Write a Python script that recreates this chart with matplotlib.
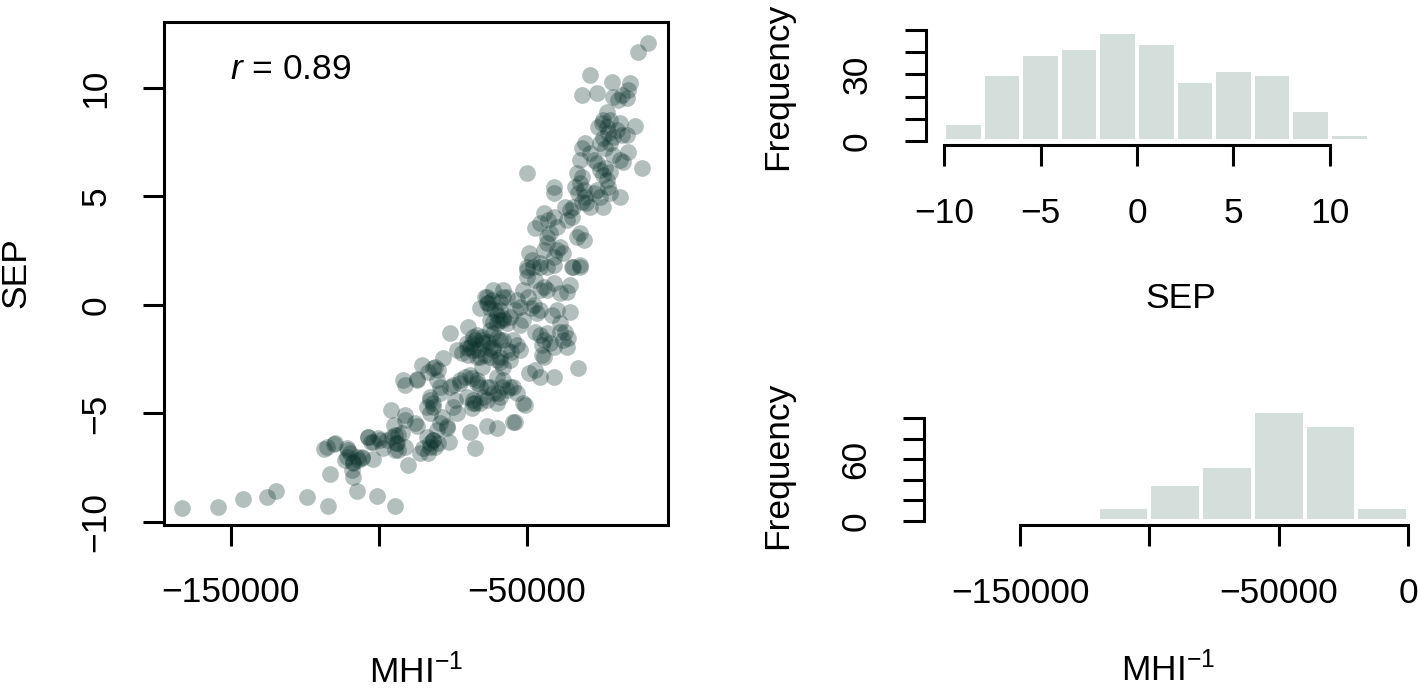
import numpy as np
import matplotlib
matplotlib.use("Agg")
import matplotlib.pyplot as plt

plt.rcParams["font.family"] = ["Liberation Sans", "DejaVu Sans"]
plt.rcParams["mathtext.fontset"] = "custom"
plt.rcParams["mathtext.rm"] = "Liberation Sans"
plt.rcParams["mathtext.it"] = "Liberation Sans:italic"

# scatter: MHI^-1 (thousands) against SEP
mhi_k = [
    # lower tail
    -166.4, -154.3, -145.8, -137.7, -134.8, -124.4, -117.1, -118.5, -115.1, -116.7,
    -110.4, -110.9, -108.7, -107.0, -105.8, -108.7, -107.5, -103.8, -102.7, -101.9,
    -100.6, -100.2, -94.6, -96.0, -94.8, -94.6, -94.4, -92.3, -93.5,
    -117.7, -114.9, -110.9, -109.8, -111.5, -108.7, -107.5, -105.8, -109.2, -103.6,
    -101.9, -99.7, -91.2, -87.8, -87.3, -95.7, -93.5, -94.0, -97.4, -98.5, -94.6,
    -91.2, -90.1,
    # lower band
    -91.8, -87.3, -85.6, -83.4, -81.1, -79.9, -78.3, -80.5, -79.4, -82.8, -83.9,
    -81.6, -82.8, -83.9, -82.8, -81.6, -81.1, -85.1, -86.2, -83.4, -80.5, -79.4,
    -77.1, -76.5,
    -76.0, -73.8, -72.1, -70.4, -68.7, -67.6, -69.8, -65.9, -64.2, -68.1, -69.8,
    -65.3, -62.5, -59.1, -56.9, -55.4, -58.0, -60.2, -61.4, -65.9, -63.1, -62.5,
    -59.1, -58.0, -58.0, -56.9, -55.7, -60.2,
    -74.9, -72.6, -68.7, -67.0, -65.9, -63.6, -60.2, -58.5, -56.9, -53.5, -61.4,
    -68.1, -67.6, -68.7, -64.7, -69.3, -67.6, -63.6, -60.2, -54.6,
    # middle
    -91.2, -87.3, -81.6, -82.8, -81.6, -79.4, -78.8, -77.1, -81.6, -82.8, -79.9,
    -91.2, -74.9, -74.3, -73.8, -76.0, -72.6, -70.9, -69.3, -69.3, -66.5, -67.0,
    -67.0, -68.1, -70.4, -65.9, -62.5, -63.6, -58.0, -59.7, -55.7, -59.1, -60.2,
    -54.6, -51.2, -50.7, -54.1, -65.3, -62.5, -64.7, -61.4, -59.1, -55.7, -58.0,
    -59.1, -53.5, -52.4, -54.6, -49.4, -47.3, -45.6, -41.0, -45.0, -44.4, -32.7,
    -70.4, -68.1,
    -63.6, -61.9, -60.8, -64.2, -58.0, -56.9, -59.1, -58.0, -59.1, -61.4, -53.5,
    -52.4, -54.1, -51.2, -52.4, -48.8, -47.7, -46.6, -45.6, -47.3, -45.6, -43.3,
    -44.4, -41.7, -40.0, -38.9, -38.9, -37.2, -37.7, -36.0, -35.5, -36.6, -41.0,
    -42.2, -45.0,
    -50.1, -47.9, -45.6, -43.3, -41.0, -50.1, -47.3, -44.4, -45.6, -43.3, -41.0,
    -38.9, -36.6, -35.5, -34.4, -32.1, -51.2, -49.6,
    -61.4, -63.6, -62.5, -60.2, -67.0, -65.3, -63.1, -61.4, -62.5, -60.2,
    # upper band
    -9.0, -12.4, -28.7, -31.5, -26.5, -21.4, -15.2, -15.8, -18.0, -19.1,
    -16.3, -20.9, -13.5, -16.3, -23.1, -24.2, -25.9, -24.8, -22.0, -23.1,
    -22.5, -24.2, -25.3, -22.0, -23.7, -20.9, -18.6, -19.7, -18.0, -30.4,
    -31.5, -32.1, -28.7, -27.5, -26.5, -25.3, -24.2, -23.7, -20.9, -18.6,
    -15.8, -17.5, -11.3, -22.0, -23.1, -18.6, -22.5, -22.0, -24.2, -50.1,
    -41.0, -40.8, -33.2, -31.5, -32.1, -33.8, -30.9, -32.7, -30.4, -31.5,
    -34.4, -35.5, -29.9, -28.7, -27.5, -26.5, -25.3, -44.4, -42.8, -41.0,
    -40.0, -42.2, -43.3, -36.6, -37.2, -34.9, -32.1, -30.9, -33.2, -43.3,
    -40.0, -41.0, -38.9, -37.7, -45.6, -47.3, -32.1, -34.9, -49.4, -48.3,
    -45.6, -50.1, -44.4,
]
sep = [
    -9.37, -9.32, -8.95, -8.86, -8.56, -8.85, -9.26, -6.65, -6.42, -7.79,
    -6.67, -6.99, -7.22, -7.14, -6.99, -7.94, -8.56, -6.10, -6.30, -7.11,
    -8.79, -6.14, -9.26, -4.84, -5.53, -5.99, -6.37, -5.91, -6.68,
    -6.53, -6.37, -6.61, -6.84, -7.14, -7.30, -6.99, -7.07, -7.60, -6.07,
    -6.30, -6.22, -5.07, -5.45, -5.60, -6.07, -5.99, -6.37, -6.22, -6.61, -6.68,
    -6.53, -7.37,
    -3.46, -3.46, -2.76, -3.07, -2.84, -3.00, -2.46, -3.46, -3.76, -4.22, -4.69,
    -4.53, -4.99, -6.07, -6.37, -6.22, -6.53, -6.61, -6.84, -6.84, -5.76, -5.45,
    -5.68, -6.30,
    -1.31, -2.07, -2.23, -2.00, -1.77, -1.61, -2.30, -2.38, -2.30, -1.46, -1.00,
    -2.84, -2.00, -2.61, -2.07, -2.15, -1.61, -1.54, -1.31, -0.15, 0.08, -0.15,
    0.15, 0.38, -0.69, -0.84, -0.54, -0.46,
    -3.69, -3.61, -3.38, -3.46, -3.76, -3.76, -3.30, -3.76, -3.92, -4.07, -4.07,
    -4.38, -4.53, -4.76, -4.22, -5.84, -6.61, -5.60, -5.68, -5.38,
    -3.69, -3.42, -2.92, -4.38, -4.69, -4.07, -5.15, -5.60, -6.22, -6.53, -6.37,
    -5.30, -4.69, -4.38, -4.99, -3.76, -3.46, -3.30, -3.23, -1.92, -2.07, -2.38,
    -3.61, -4.53, -4.22, -4.53, -3.76, -4.38, -3.46, -4.07, -3.76, -4.22, -4.53,
    -3.76, -4.53, -4.61, -5.38, -1.46, -1.15, -1.77, -1.92, -1.61, -2.53, -2.84,
    -2.38, -1.84, -2.07, -1.61, -3.15, -3.00, -3.30, -3.30, -2.30, -2.38, -2.92,
    -1.77, -2.07,
    0.08, 0.23, -0.23, 0.38, 0.69, 0.38, -0.69, -0.61, -0.23, -0.77, 0.23,
    -0.08, -0.23, -0.69, -0.92, -0.15, 0.00, -0.38, -0.23, -1.23, -1.38, -1.31,
    -1.61, -0.46, -0.23, -0.84, -1.23, -1.23, -1.61, -1.54, -0.31, -1.92, -1.92,
    -1.77, -1.84,
    1.61, 1.77, 1.92, 1.77, 1.84, 1.30, 1.15, 0.84, 0.69, 0.69, 1.00,
    0.54, 0.61, 0.92, 1.77, 1.77, 0.69, 0.38,
    0.69, 0.38, -0.69, -0.84, -1.38, -1.61, -1.69, -2.07, -2.38, -2.53,
    12.09, 11.67, 10.60, 9.68, 9.75, 10.29, 10.25, 9.91, 9.68, 9.45,
    9.52, 9.60, 8.25, 7.83, 8.91, 8.53, 8.22, 8.37, 8.53, 8.22,
    7.91, 7.68, 7.45, 7.45, 7.22, 7.76, 8.37, 8.06, 7.83, 7.45,
    7.22, 6.68, 6.99, 6.68, 6.53, 6.22, 5.99, 6.30, 6.91, 6.68,
    7.06, 6.61, 6.30, 6.15, 5.76, 4.99, 5.45, 5.15, 4.53, 6.07,
    5.45, 5.15, 6.07, 5.91, 5.61, 5.45, 5.30, 5.15, 4.99, 4.76,
    4.53, 4.38, 4.68, 4.53, 5.15, 5.30, 4.99, 4.22, 3.92, 4.07,
    3.61, 3.30, 3.15, 3.92, 4.53, 4.07, 3.30, 3.00, 3.15, 2.84,
    2.53, 2.23, 2.69, 2.38, 3.76, 3.53, 1.84, 1.77, 2.38, 2.07,
    1.77, 1.77, 2.53,
]
mhi = np.array(mhi_k) * 1000

# histograms
sep_breaks = np.arange(-10, 15, 2)
sep_counts = [8, 30, 39, 42, 49, 44, 27, 32, 30, 14, 3, 0]
mhi_breaks = np.arange(-180000, 1, 20000)
mhi_counts = [0, 0, 0, 14, 36, 53, 107, 93, 14]

pt_col = "#052D26"
bar_col = "#D4DFDC"
fs = 25.5
lw = 2.2

W, H = 1418, 690
fig = plt.figure(figsize=(W / 100, H / 100), dpi=100)


def px_axes(l, t, r, b):
    return fig.add_axes([l / W, 1 - b / H, (r - l) / W, (b - t) / H])


def style(ax):
    for s in ax.spines.values():
        s.set_linewidth(lw)
    ax.tick_params(length=15, width=lw, pad=22, labelsize=fs)
    ax.tick_params(axis="y", labelrotation=90)
    for lab in ax.get_yticklabels():
        lab.set_va("center")


# scatter
ax = px_axes(164, 22, 668, 525)
ax.scatter(mhi, sep, s=145, color=pt_col, alpha=0.3, linewidths=0)
ax.set_xlim(-172635, -2365)
ax.set_ylim(-10.14, 13.04)
ax.set_xticks([-150000, -100000, -50000], ["\u2212150000", "", "\u221250000"])
ax.set_yticks([-10, -5, 0, 5, 10], ["\u221210", "\u22125", "0", "5", "10"])
style(ax)
ax.text(0.131, 0.905, "$r$ = 0.89", transform=ax.transAxes, fontsize=fs,
        ha="left", va="center")
fig.text(416 / W, 1 - 672 / H, "MHI$^{\u22121}$", fontsize=fs, ha="center", va="center")
fig.text(16 / W, 1 - 273 / H, "SEP", fontsize=fs, ha="center", va="center", rotation=90)

# SEP histogram
ax1 = px_axes(925.5, 27.9, 1425.7, 145.4)
ax1.bar(sep_breaks[:-1], sep_counts, width=np.diff(sep_breaks), align="edge",
        color=bar_col, edgecolor="white", linewidth=2.9)
ax1.set_xlim(-10.96, 14.96)
ax1.set_ylim(-1.96, 50.96)
ax1.set_xticks([-10, -5, 0, 5, 10], ["\u221210", "\u22125", "0", "5", "10"])
ax1.set_yticks([0, 10, 20, 30, 40, 50], ["0", "", "", "30", "", ""])
ax1.spines["top"].set_visible(False)
ax1.spines["right"].set_visible(False)
ax1.spines["left"].set_bounds(0, 50)
ax1.spines["bottom"].set_bounds(-10, 10)
style(ax1)
fig.text(778 / W, 1 - 86.5 / H, "Frequency", fontsize=fs, ha="center", va="center", rotation=90)
fig.text(1181 / W, 1 - 298 / H, "SEP", fontsize=fs, ha="center", va="center")

# MHI histogram
ax2 = px_axes(923.8, 406.4, 1426.6, 525.4)
ax2.bar(mhi_breaks[:-1], mhi_counts, width=np.diff(mhi_breaks), align="edge",
        color=bar_col, edgecolor="white", linewidth=2.9)
ax2.set_xlim(-187200, 7200)
ax2.set_ylim(-4.28, 111.28)
ax2.set_xticks([-150000, -100000, -50000, 0], ["\u2212150000", "", "\u221250000", "0"])
ax2.set_yticks([0, 20, 40, 60, 80, 100], ["0", "", "", "60", "", ""])
ax2.spines["top"].set_visible(False)
ax2.spines["right"].set_visible(False)
ax2.spines["left"].set_bounds(0, 100)
ax2.spines["bottom"].set_bounds(-150000, 0)
style(ax2)
fig.text(778 / W, 1 - 465 / H, "Frequency", fontsize=fs, ha="center", va="center", rotation=90)
fig.text(1168 / W, 1 - 670 / H, "MHI$^{\u22121}$", fontsize=fs, ha="center", va="center")

fig.savefig("out.png", dpi=100)
